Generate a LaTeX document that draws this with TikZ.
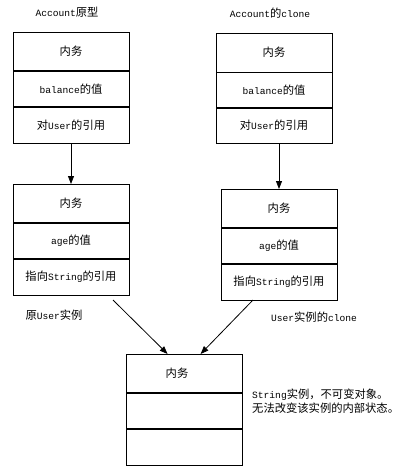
\documentclass[tikz,border=0pt]{standalone}
\usepackage{fontspec}
\setmainfont{Noto Sans CJK SC}
\newfontfamily\mymono{Liberation Mono}
\usetikzlibrary{arrows.meta,calc}
\newcommand\ml[1]{{\mymono\fontsize{9.6}{12}\selectfont #1}}
\begin{document}
\begin{tikzpicture}[x=1pt,y=-1pt,
 cell/.style={draw,line width=0.8pt,minimum width=116pt,inner sep=0pt,anchor=north,font=\fontsize{11.3}{14}\selectfont},
 arr/.style={-{Triangle[length=8pt,width=6pt]},line width=0.8pt},
 lbl/.style={font=\fontsize{11.3}{14}\selectfont,inner sep=0pt}]
\useasboundingbox[fill=white] (0,0) rectangle (417,475);
% Account original
\node[cell,minimum height=38pt] (b1a) at (71,32) {内务};
\node[cell,minimum height=35pt] (b1b) at (b1a.south) {\ml{balance}的值};
\node[cell,minimum height=36pt] (b1c) at (b1b.south) {对\ml{User}的引用};
% Account clone
\node[cell,minimum height=38.5pt] (b2a) at (274,33) {内务};
\node[cell,minimum height=34.5pt] (b2b) at (b2a.south) {\ml{balance}的值};
\node[cell,minimum height=35pt] (b2c) at (b2b.south) {对\ml{User}的引用};
% User original
\node[cell,minimum height=38pt] (b3a) at (71,184) {内务};
\node[cell,minimum height=35pt] (b3b) at (b3a.south) {\ml{age}的值};
\node[cell,minimum height=36pt] (b3c) at (b3b.south) {指向\ml{String}的引用};
% User clone
\node[cell,minimum height=38pt] (b4a) at (279,189) {内务};
\node[cell,minimum height=35pt] (b4b) at (b4a.south) {\ml{age}的值};
\node[cell,minimum height=36pt] (b4c) at (b4b.south) {指向\ml{String}的引用};
% String
\node[cell,minimum height=38pt] (b5a) at (184,354) {\hspace*{-14pt}内务};
\node[cell,minimum height=35pt] (b5b) at (b5a.south) {};
\node[cell,minimum height=36pt] (b5c) at (b5b.south) {};
% arrows
\draw[arr] (b1c.south) -- (b3a.north);
\draw[arr] (b4a.north |- b2c.south) -- (b4a.north);
\coordinate (s3) at (113,300);
\coordinate (s4) at (253,300);
\draw[arr] (s3) -- ($(b5a.north west)+(42,0)$);
\draw[arr] (s4) -- ($(b5a.north west)+(75,0)$);
% labels
\node[lbl] (t1) at (67,12) {\ml{Account}原型};
\node[lbl] (t2) at (270,13) {\ml{Account}的\ml{clone}};
\node[lbl] (t3) at (54,315) {原\ml{User}实例};
\node[lbl] (t4) at (314,317) {\ml{User}实例的\ml{clone}};
\node[lbl,anchor=north west,align=left] (t5) at (252,389) {\ml{String}实例，不可变对象。\\无法改变该实例的内部状态。};
\end{tikzpicture}
\end{document}
